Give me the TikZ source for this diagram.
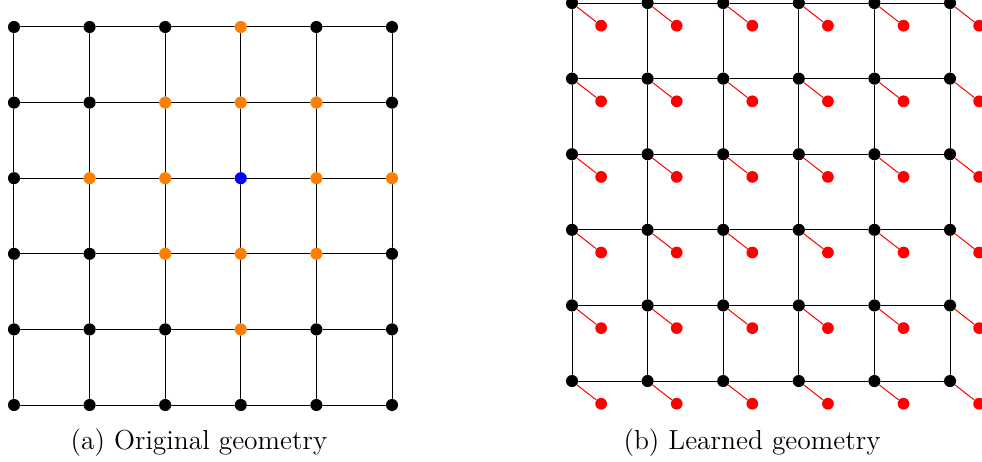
\documentclass[tikz,border=0pt]{standalone}
\usetikzlibrary{calc}

\tikzset{
  vtx/.style={circle, fill=black, inner sep=0pt, minimum size=0.17cm},
  lrn/.style={circle, fill=red, inner sep=0pt, minimum size=0.165cm},
  subcap/.style={font=\fontsize{11}{13.6}\selectfont},
}

\begin{document}
\begin{tikzpicture}[x=1.063cm, y=1.063cm, line cap=round, line join=round]
  \useasboundingbox (0,0) rectangle (12.989,6.098);
  \coordinate (L) at (0.185,0.741);
  \coordinate (R) at (7.566,1.058);

  % original grid
  \foreach \i in {0,...,5} {
    \foreach \j in {0,...,5} {
      \pgfmathtruncatemacro{\d}{abs(\i-3)+abs(\j-3)}
      \ifnum\d=0 \def\col{blue}\else\ifnum\d<3 \def\col{orange}\else\def\col{black}\fi\fi
      \node[vtx, fill=\col] (l-\i-\j) at ($(L)+(\i,\j)$) {};
    }
  }

  % learned grid
  \foreach \i in {0,...,5} {
    \foreach \j in {0,...,5} {
      \node[vtx] (r-\i-\j) at ($(R)+(\i,\j)$) {};
      \node[lrn] (p-\i-\j) at ($(r-\i-\j)+(0.385,-0.3)$) {};
      \draw[red] (r-\i-\j) -- (p-\i-\j);
    }
  }

  \foreach \i in {0,...,5} {
    \foreach \j in {0,...,4} {
      \pgfmathtruncatemacro{\k}{\j+1}
      \draw (l-\i-\j) -- (l-\i-\k);
      \draw (l-\j-\i) -- (l-\k-\i);
      \draw (r-\i-\j) -- (r-\i-\k);
      \draw (r-\j-\i) -- (r-\k-\i);
    }
  }

  \node[subcap] (capa) at (2.632,0.238) {(a) Original geometry};
  \node[subcap] (capb) at (9.947,0.238) {(b) Learned geometry};
\end{tikzpicture}
\end{document}
